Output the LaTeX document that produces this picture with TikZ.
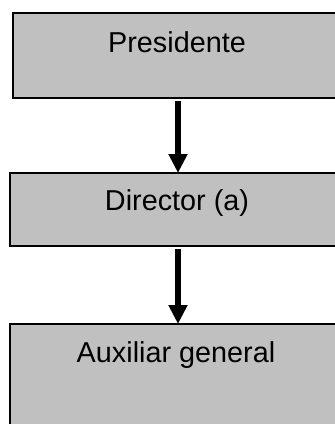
\documentclass[tikz,border=0pt]{standalone}
\usepackage{fontspec}
\setmainfont{Liberation Sans}
\usetikzlibrary{arrows.meta}
\begin{document}
\begin{tikzpicture}[x=1pt,y=-1pt,
  box/.style={draw=black, line width=2pt, fill={rgb,255:red,192;green,192;blue,192}, rectangle, inner sep=0pt, anchor=north west},
  lbl/.style={font=\fontsize{28.8}{34}\selectfont, inner sep=0pt, anchor=base},
  arr/.style={line width=6pt, -{Triangle[length=19pt,width=18pt]}}]
\useasboundingbox (0,0) rectangle (335,424);
\clip (0,0) rectangle (335,424);
\fill[white] (0,0) rectangle (335,424);
\node[box, minimum width=380pt, minimum height=85pt] (p) at (12,12) {};
\node[lbl] (pt) at (177,52) {Presidente};
\node[box, minimum width=380pt, minimum height=73pt] (d) at (9,172) {};
\node[lbl] (dt) at (177,210) {Director (a)};
\node[box, minimum width=380pt, minimum height=130pt] (a) at (9,323) {};
\node[lbl] (at) at (176,362) {Auxiliar general};
\draw[arr] ([xshift=1pt,yshift=-2pt]pt |- p.south) -- ([xshift=1pt,yshift=-1pt]pt |- d.north);
\draw[arr] ([xshift=1pt,yshift=-2pt]pt |- d.south) -- ([xshift=1pt,yshift=-1pt]pt |- a.north);
\end{tikzpicture}
\end{document}
